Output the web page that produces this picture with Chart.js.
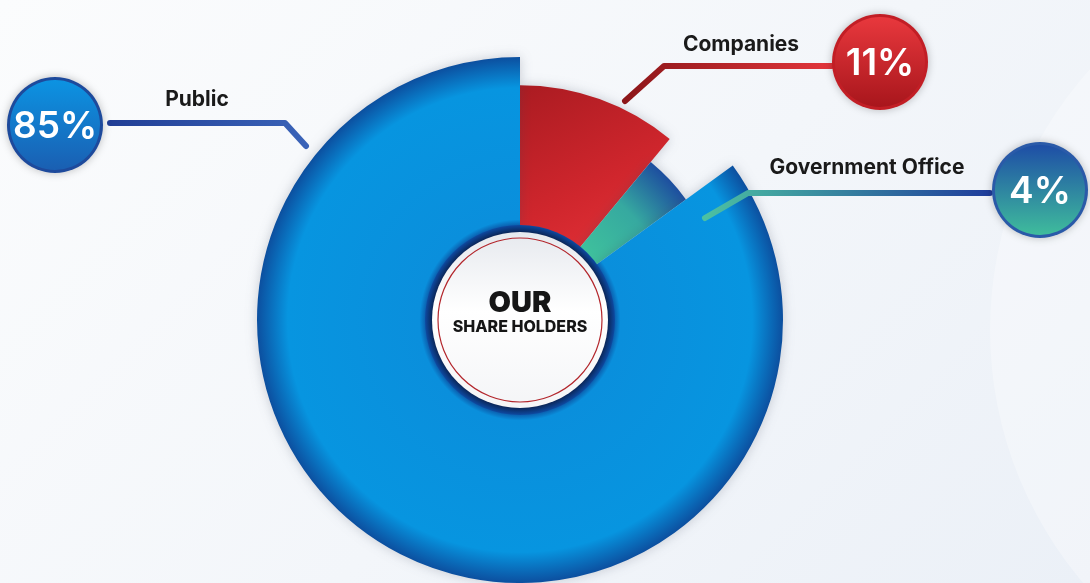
<!DOCTYPE html>
<html>
<head>
<meta charset="utf-8">
<title>Our Share Holders</title>
<script src="https://cdn.jsdelivr.net/npm/chart.js@4.4.1/dist/chart.umd.min.js"></script>
<style>
  html, body { margin: 0; padding: 0; }
  body { width: 1090px; height: 583px; overflow: hidden;
         background: linear-gradient(135deg, #fbfcfd 0%, #f3f6fa 55%, #ebf0f7 100%); }
  #wrap { position: relative; width: 1090px; height: 583px; }
</style>
</head>
<body>
<div id="wrap"><canvas id="shareChart"></canvas></div>
<script>
// data
const holders = ["Companies", "Government Office", "Public"];
const shares = [11, 4, 85];
const centerTitle = ["OUR", "SHARE HOLDERS"];

// per slice look (outer radius factor + callout layout)
const sliceRadius = [0.893, 0.78, 1];
const callouts = [
  { start: [625, 101], bend: [664, 66], end: [832, 66], text: [741, 45], badge: [880, 62],
    line: ["#8c1619", "#e3363c"], fill: ["#e8383d", "#a8161c"], ring: "#c21e25" },
  { start: [705, 218], bend: [748, 193], end: [990, 193], text: [867, 168], badge: [1040, 190],
    line: ["#4cc1a2", "#1f3d9c"], fill: ["#1e4ea6", "#3fbc9c"], ring: "#2a5aa8" },
  { start: [306, 146], bend: [285, 123], end: [110, 123], text: [197, 100], badge: [55, 125],
    line: ["#3a63b8", "#223f96"], fill: ["#0c93e2", "#1a5fb2"], ring: "#1d4a9c" }
];

function sliceFill(context) {
  const chart = context.chart;
  const area = chart.chartArea;
  const i = context.dataIndex;
  const fallback = ["#d42a30", "#2f9a9c", "#0a8fdc"][i];
  if (!area) return fallback;
  const c = chart.ctx;
  const cx = (area.left + area.right) / 2, cy = (area.top + area.bottom) / 2;
  const r = Math.min(area.width, area.height) / 2;
  if (i === 0) {
    const g = c.createLinearGradient(cx, cy - r, cx + 110, cy - 40);
    g.addColorStop(0, "#a3191f");
    g.addColorStop(0.6, "#d0262d");
    g.addColorStop(1, "#e8343a");
    return g;
  }
  if (i === 1) {
    const g = c.createRadialGradient(cx, cy, 90, cx, cy, r * 0.78);
    g.addColorStop(0, "#3fc29c");
    g.addColorStop(0.55, "#36a9a0");
    g.addColorStop(1, "#1d4e9f");
    return g;
  }
  const g = c.createRadialGradient(cx, cy, 92, cx, cy, r);
  g.addColorStop(0, "#0b4a9a");
  g.addColorStop(0.05, "#0a8fdc");
  g.addColorStop(0.82, "#0795e0");
  g.addColorStop(1, "#0c4f9f");
  return g;
}

const shapePlugin = {
  id: "shape",
  beforeDraw(chart) {
    const c = chart.ctx;
    c.save();
    c.beginPath();
    c.arc(1380, 330, 390, 0, Math.PI * 2);
    c.fillStyle = "rgba(255,255,255,0.3)";
    c.fill();
    c.restore();
  },
  afterDatasetsUpdate(chart) {
    const meta = chart.getDatasetMeta(0);
    meta.data.forEach((el, i) => {
      el.outerRadius = el.outerRadius * sliceRadius[i];
    });
  },
  beforeDatasetDraw(chart) {
    const c = chart.ctx;
    c.save();
    c.shadowColor = "rgba(60,70,90,0.25)";
    c.shadowBlur = 12;
  },
  afterDatasetDraw(chart) {
    chart.ctx.restore();
  },
  afterDraw(chart) {
    const c = chart.ctx;
    const meta = chart.getDatasetMeta(0);
    const arc = meta.data[0];
    const cx = arc.x, cy = arc.y;

    // center hub
    c.save();
    c.beginPath();
    c.arc(cx, cy, 95, 0, Math.PI * 2);
    const ringG = c.createRadialGradient(cx, cy, 86, cx, cy, 95);
    ringG.addColorStop(0, "#0a1c44");
    ringG.addColorStop(1, "#0d4aa2");
    c.fillStyle = ringG;
    c.fill();
    c.beginPath();
    c.arc(cx, cy, 88, 0, Math.PI * 2);
    const hubG = c.createLinearGradient(cx, cy - 88, cx, cy + 88);
    hubG.addColorStop(0, "#e6e9ee");
    hubG.addColorStop(0.45, "#ffffff");
    hubG.addColorStop(1, "#f4f5f7");
    c.fillStyle = hubG;
    c.fill();
    c.beginPath();
    c.arc(cx, cy, 82, 0, Math.PI * 2);
    c.strokeStyle = "#b3262c";
    c.lineWidth = 1.2;
    c.stroke();
    c.fillStyle = "#161616";
    c.textAlign = "center";
    c.textBaseline = "middle";
    c.font = "900 29px Inter, 'Noto Sans', sans-serif";
    c.fillText(centerTitle[0], cx, cy - 17);
    c.font = "800 16px Inter, 'Noto Sans', sans-serif";
    c.fillText(centerTitle[1], cx, cy + 7);
    c.restore();

    // callouts
    callouts.forEach((co, i) => {
      c.save();
      const lg = c.createLinearGradient(co.start[0], 0, co.end[0], 0);
      lg.addColorStop(0, co.line[0]);
      lg.addColorStop(1, co.line[1]);
      c.strokeStyle = lg;
      c.lineWidth = 6;
      c.lineCap = "round";
      c.lineJoin = "round";
      c.beginPath();
      c.moveTo(co.start[0], co.start[1]);
      c.lineTo(co.bend[0], co.bend[1]);
      c.lineTo(co.end[0], co.end[1]);
      c.stroke();

      c.fillStyle = "#1a1a1a";
      c.textAlign = "center";
      c.textBaseline = "middle";
      c.font = "700 21px Inter, 'Noto Sans', sans-serif";
      c.fillText(holders[i], co.text[0], co.text[1]);

      const bx = co.badge[0], by = co.badge[1];
      c.shadowColor = "rgba(0,0,0,0.25)";
      c.shadowBlur = 8;
      c.beginPath();
      c.arc(bx, by, 48, 0, Math.PI * 2);
      c.fillStyle = co.ring;
      c.fill();
      c.shadowBlur = 0;
      c.beginPath();
      c.arc(bx, by, 45, 0, Math.PI * 2);
      const bg = c.createLinearGradient(bx, by - 45, bx, by + 45);
      bg.addColorStop(0, co.fill[0]);
      bg.addColorStop(1, co.fill[1]);
      c.fillStyle = bg;
      c.fill();
      c.fillStyle = "#ffffff";
      c.font = "600 37px Inter, 'Noto Sans', sans-serif";
      c.fillText(shares[i] + "%", bx, by + 2);
      c.restore();
    });
  }
};

new Chart(document.getElementById("shareChart"), {
  type: "doughnut",
  data: {
    labels: holders,
    datasets: [{
      data: shares,
      backgroundColor: sliceFill,
      borderWidth: 0,
      hoverOffset: 0
    }]
  },
  options: {
    responsive: true,
    maintainAspectRatio: false,
    animation: false,
    events: [],
    cutout: 92,
    rotation: 0,
    layout: { padding: { top: 57, bottom: 0, left: 257, right: 307 } },
    plugins: {
      legend: { display: false },
      tooltip: { enabled: false }
    }
  },
  plugins: [shapePlugin]
});
</script>
</body>
</html>
